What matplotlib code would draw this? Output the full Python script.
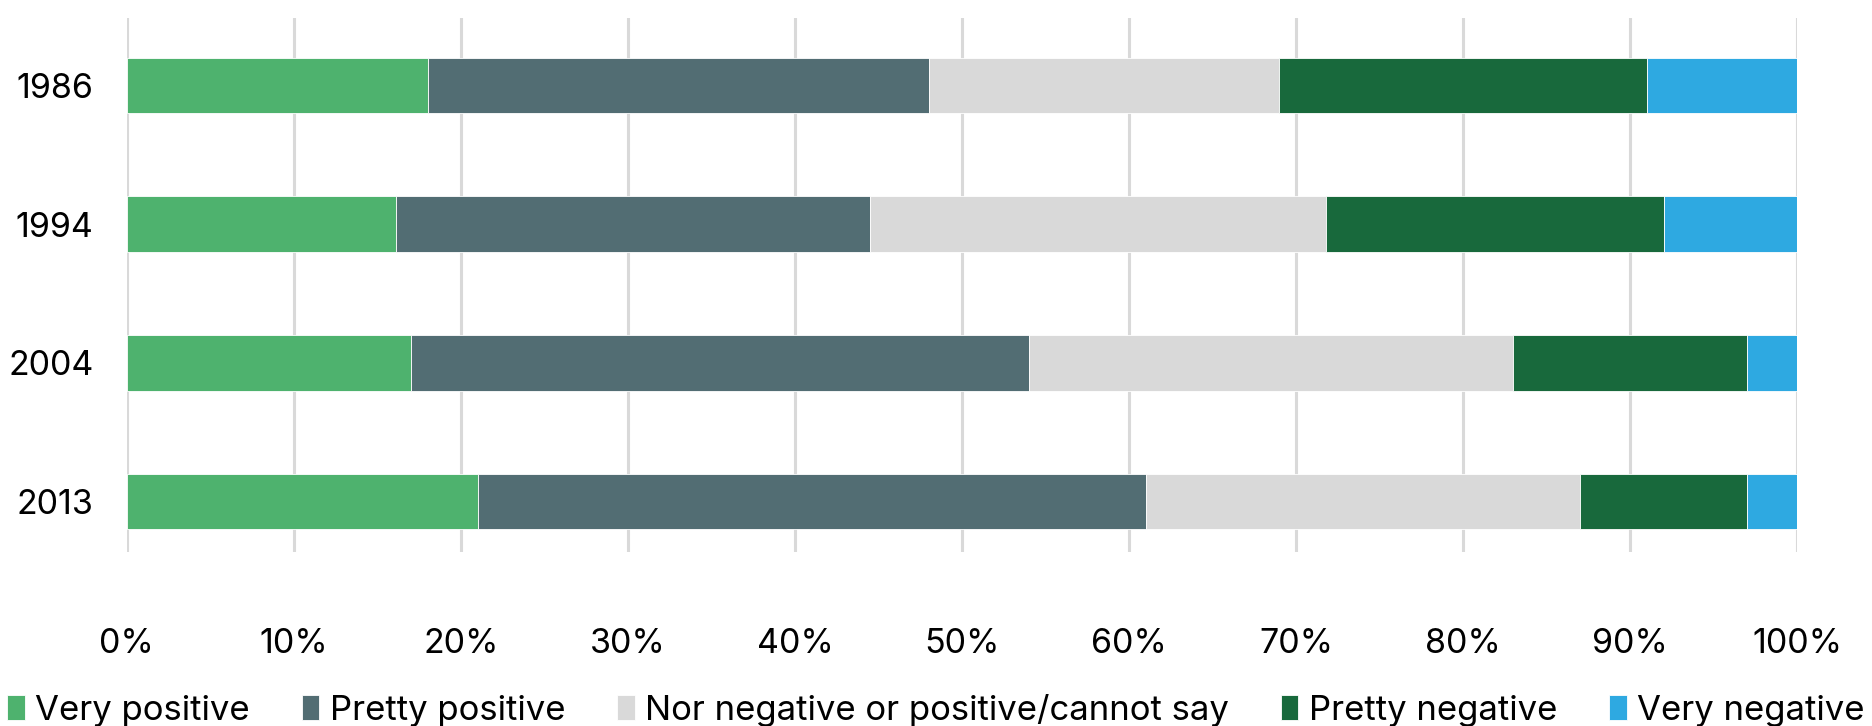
import matplotlib.pyplot as plt
import numpy as np
from matplotlib.ticker import PercentFormatter

plt.rcParams['font.family'] = ['Inter', 'DejaVu Sans']

years = ['1986', '1994', '2004', '2013']
very_positive = [18, 16.1, 17, 21]
pretty_positive = [30, 28.4, 37, 40]
neutral = [21, 27.3, 29, 26]
pretty_negative = [22, 20.2, 14, 10]
very_negative = [9, 8, 3, 3]

series = [
    ('Very positive', very_positive, '#4eb26e'),
    ('Pretty positive', pretty_positive, '#526d73'),
    ('Nor negative or positive/cannot say', neutral, '#d9d9d9'),
    ('Pretty negative', pretty_negative, '#18693c'),
    ('Very negative', very_negative, '#2ea9e1'),
]

fig = plt.figure(figsize=(18.72, 7.26), dpi=100)
ax = fig.add_axes([0.0678, 0.2397, 0.8922, 0.7353])

y = np.arange(len(years))
left = np.zeros(len(years))
for name, vals, color in series:
    vals = np.array(vals, dtype=float)
    ax.barh(y, vals, left=left, height=0.4, color=color, label=name,
            edgecolor='white', linewidth=0.6, zorder=3)
    left += vals

ax.set_xlim(0, 100)
ax.set_ylim(3.364, -0.486)
ax.set_yticks(y)
ax.set_yticklabels(years)
ax.set_xticks(np.arange(0, 101, 10))
ax.xaxis.set_major_formatter(PercentFormatter(decimals=0))
ax.grid(axis='x', color='#d9d9d9', linewidth=2.2, zorder=0)
ax.tick_params(axis='both', length=0, labelsize=24.5)
ax.tick_params(axis='x', pad=55)
ax.tick_params(axis='y', pad=24)
for s in ax.spines.values():
    s.set_visible(False)

fig.legend(loc='center', bbox_to_anchor=(0.5, 0.022), ncol=5, frameon=False,
           fontsize=25, handlelength=0.5, handleheight=0.7, handletextpad=0.3,
           columnspacing=1.5)

fig.savefig('out.png', dpi=100)
